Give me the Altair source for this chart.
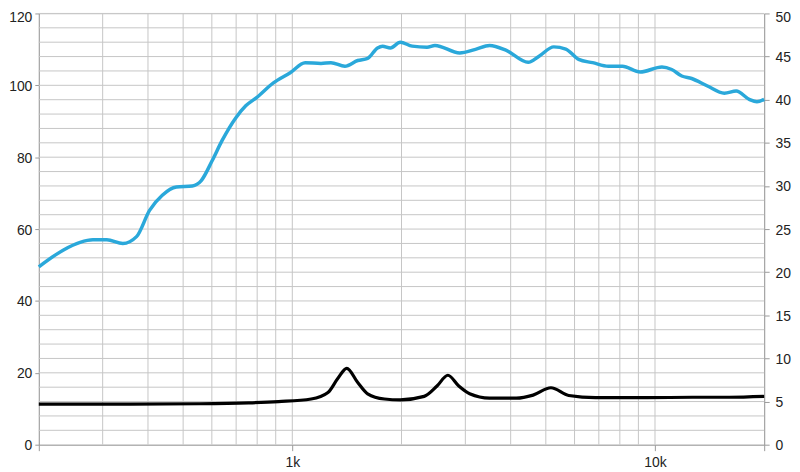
import altair as alt
import pandas as pd

# SPL curve (left axis, dB) -- frequency in Hz
spl_freq = [200, 234, 260, 282, 308, 341, 372, 404, 438, 479, 530, 561, 601, 640, 699, 744, 797, 887, 987,
            1085, 1200, 1278, 1396, 1515, 1613, 1718, 1773, 1864, 1985, 2141, 2352, 2474, 2895, 3200, 3498,
            3892, 4470, 4790, 5260, 5675, 6160, 6730, 7440, 8130, 9100, 10450, 11120, 11850, 12620, 13950,
            15530, 16750, 18190, 19100, 20000]
spl_val = [49.5, 54.2, 56.3, 57.0, 57.0, 56.0, 57.9, 65.2, 69.4, 71.7, 72.0, 73.5, 79.0, 84.6, 91.0, 94.3, 96.6,
           100.7, 103.5, 106.3, 106.1, 106.3, 105.3, 106.9, 107.5, 110.4, 110.9, 110.4, 112.0, 110.9, 110.6,
           111.1, 109.0, 110.0, 111.1, 109.7, 106.4, 108.1, 110.7, 110.1, 107.2, 106.3, 105.3, 105.3, 103.7,
           105.1, 104.4, 102.6, 101.9, 99.8, 97.8, 98.4, 96.1, 95.4, 96.1]

# Impedance curve (right axis, ohm)
imp_freq = [200, 295, 554, 758, 916, 1127, 1254, 1336, 1413, 1515, 1613, 1795, 1985, 2310, 2506, 2685, 2877,
            3083, 3498, 4145, 4613, 5165, 5783, 6855, 9390, 12860, 16000, 20000]
imp_val = [4.7, 4.7, 4.75, 4.85, 5.0, 5.3, 6.05, 7.7, 8.85, 7.2, 5.9, 5.3, 5.2, 5.6, 6.8, 8.05, 6.8,
           5.9, 5.4, 5.4, 5.75, 6.6, 5.7, 5.45, 5.45, 5.5, 5.5, 5.6]

# grid positions
vgrid = [300, 400, 500, 600, 700, 800, 900, 1000, 2000, 3000, 4000, 5000, 6000, 7000, 8000, 9000, 10000]
hgrid = [v * 4 for v in range(1, 31)]
left_ticks = [0, 20, 40, 60, 80, 100, 120]
right_ticks = [0, 5, 10, 15, 20, 25, 30, 35, 40, 45, 50]
x_ticks = [200, 1000, 10000, 20000]

W, H = 730, 434
FONT = "Liberation Sans"
FS = 14
GRID = "#c6c6c6"
AXIS = "#9a9a9a"

xscale = alt.Scale(type="log", domain=[200, 20000], nice=False)
yl = alt.Scale(domain=[0, 120], nice=False)
yr = alt.Scale(domain=[0, 50], nice=False)

x_axis = alt.Axis(values=x_ticks, grid=False, title=None, domainColor=AXIS, tickColor=AXIS,
                  tickSize=6, labelExpr="datum.value == 1000 ? '1k' : (datum.value == 10000 ? '10k' : '')",
                  labelFont=FONT, labelFontSize=FS, labelColor="#222", labelPadding=5, labelFlush=False)
yl_axis = alt.Axis(values=left_ticks, grid=False, title=None, domainColor=AXIS, tickColor=AXIS,
                   tickSize=4, labelFont=FONT, labelFontSize=FS, labelColor="#222", labelPadding=3,
                   labelOffset=alt.condition("datum.value == 120", alt.value(4), alt.value(1)))
yr_axis = alt.Axis(orient="right", values=right_ticks, grid=False, title=None, domainColor=AXIS,
                   tickColor=AXIS, tickSize=5, labelFont=FONT, labelFontSize=FS, labelColor="#222",
                   labelPadding=6,
                   labelOffset=alt.condition("datum.value == 50", alt.value(4), alt.value(1)))

spl = pd.DataFrame({"f": spl_freq, "v": spl_val})
imp = pd.DataFrame({"f": imp_freq, "v": imp_val})

vg = alt.Chart(pd.DataFrame({"f": vgrid})).mark_rule(color=GRID, strokeWidth=1).encode(
    x=alt.X("f:Q", scale=xscale, axis=x_axis))
hg = alt.Chart(pd.DataFrame({"v": hgrid})).mark_rule(color=GRID, strokeWidth=1).encode(
    y=alt.Y("v:Q", scale=yl, axis=yl_axis))

blue = alt.Chart(spl).mark_line(color="#2aa8da", strokeWidth=3.5, interpolate="monotone").encode(
    x=alt.X("f:Q", scale=xscale, axis=x_axis),
    y=alt.Y("v:Q", scale=yl, axis=yl_axis))

black = alt.Chart(imp).mark_line(color="#000000", strokeWidth=3.2, interpolate="monotone").encode(
    x=alt.X("f:Q", scale=xscale, axis=x_axis),
    y=alt.Y("v:Q", scale=yr, axis=yr_axis))

left_layer = alt.layer(vg, hg, blue)
chart = alt.layer(left_layer, black).resolve_scale(y="independent").properties(
    width=W, height=H,
    autosize=alt.AutoSizeParams(type="none"),
    padding={"left": 31, "top": 4, "right": 28, "bottom": 26},
).configure_view(stroke=None).configure(background="white")

chart.save("out.html", embed_options={"renderer": "svg", "actions": False})
